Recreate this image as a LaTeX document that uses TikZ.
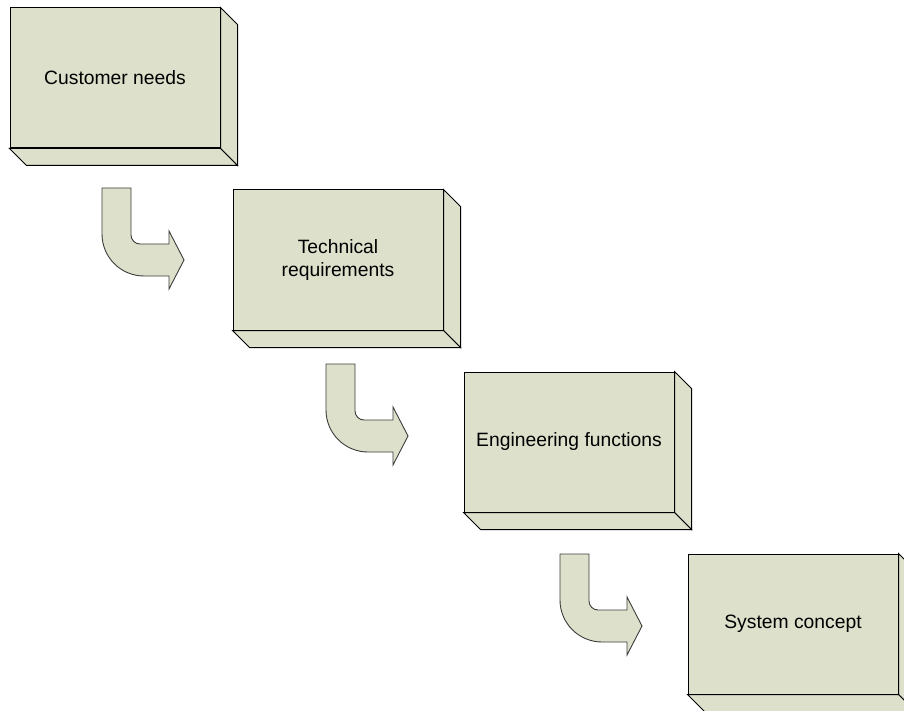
\documentclass[tikz,border=0pt]{standalone}
\usepackage{fontspec}
\setmainfont{Liberation Sans}
\usetikzlibrary{positioning}

\definecolor{stagefill}{RGB}{221,224,203}
\definecolor{arrowline}{RGB}{60,60,60}

\tikzset{
	stagebox/.style={draw=black, fill=stagefill, line width=1pt, minimum width=210pt, minimum height=140pt,
		inner sep=0pt, align=center, font=\fontsize{19.3}{23.5}\selectfont},
	stageface/.style={draw=black, fill=stagefill, line width=1pt, line join=miter},
	turnarrow/.style={draw=arrowline, fill=stagefill, line width=0.9pt, line join=miter},
	pics/turn/.style={code={
		\path[turnarrow] (0,0) -- (29,0) -- (29,-47) arc (180:270:9) -- (67,-56) -- (67,-43)
			-- (82,-72) -- (67,-101) -- (67,-88) -- (42,-88) arc (270:180:42) -- cycle;
	}}
}

\begin{document}
\begin{tikzpicture}[x=1pt,y=1pt]
\useasboundingbox (0,0) rectangle (904,-711);
\clip (0,0) rectangle (904,-711);

% stages
\node[stagebox] (needs) at (115,-78) {Customer needs};
\node[stagebox] (tech) at (338,-260) {Technical\\requirements};
\node[stagebox] (func) at (569,-442) {Engineering functions};
\node[stagebox] (concept) at (793,-624) {System concept};

% depth of the boxes
\foreach \b in {needs,tech,func,concept}{
	\draw[stageface] (\b.north east) -- ++(17,-17) -- ([shift={(17,-17)}]\b.south east) -- (\b.south east) -- cycle;
	\draw[stageface] (\b.south west) -- ++(17,-17) -- ([shift={(17,-17)}]\b.south east) -- (\b.south east) -- cycle;
}

% turning arrows
\pic (turnA) at (102,-188) {turn};
\pic (turnB) at (326,-364) {turn};
\pic (turnC) at (560,-554) {turn};
\end{tikzpicture}
\end{document}
